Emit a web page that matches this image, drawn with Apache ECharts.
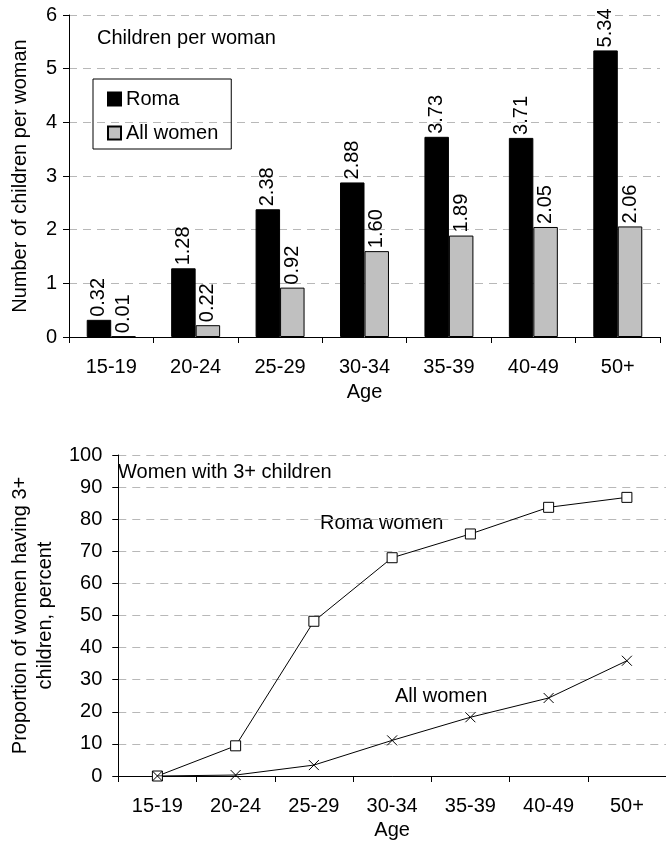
<!DOCTYPE html>
<html><head><meta charset="utf-8">
<script src="https://cdn.jsdelivr.net/npm/echarts@6/dist/echarts.min.js"></script>
<style>html,body{margin:0;padding:0;background:#fff}#c{width:666px;height:841px}</style>
</head><body><div id="c"></div>
<script>
const ages = ['15-19','20-24','25-29','30-34','35-39','40-49','50+'];
const romaChildren = [0.32,1.28,2.38,2.88,3.73,3.71,5.34];
const allChildren = [0.01,0.22,0.92,1.60,1.89,2.05,2.06];
const romaThreePlus = [0,9.4,48.2,68.0,75.4,83.7,86.8];
const allThreePlus = [0,0.3,3.4,11.1,18.3,24.3,35.9];
const topTicks = [0,1,2,3,4,5,6];
const bottomTicks = [0,10,20,30,40,50,60,70,80,90,100];

const F = 'Liberation Sans, Arial, sans-serif';
const FS = 20;
const chart = echarts.init(document.getElementById('c'), null, {renderer:'canvas'});
const splitLine = {show:true, lineStyle:{color:'#b8b8b8', type:[8,6], width:1}};
const axisLine = {show:true, lineStyle:{color:'#000', width:1}};
const xSymbol = 'path://M0,0L10,10M10,0L0,10';
const txt = {fontSize:FS, color:'#000', fontFamily:F};
chart.setOption({
  animation:false,
  textStyle:{fontFamily:F},
  grid:[
    {left:69, top:15, right:6, height:322},
    {left:104.5, top:455, right:-7, height:322.5}
  ],
  legend:{
    show:true, orient:'vertical', left:93, top:79,
    data:['Roma','All women'],
    borderColor:'#000', borderWidth:1, padding:[10,13,6,14],
    itemWidth:13, itemHeight:13, itemGap:14,
    textStyle:txt,
    icon:'rect'
  },
  xAxis:[
    {type:'category', gridIndex:0, data:ages, axisLine:axisLine,
     axisTick:{show:true, length:6, lineStyle:{color:'#000'}},
     axisLabel:Object.assign({margin:20}, txt),
     name:'Age', nameLocation:'middle', nameGap:45, nameTextStyle:txt},
    {type:'category', gridIndex:1, data:ages, axisLine:axisLine,
     axisTick:{show:true, length:6, lineStyle:{color:'#000'}},
     axisLabel:Object.assign({margin:20}, txt),
     name:'Age', nameLocation:'middle', nameGap:44, nameTextStyle:txt}
  ],
  yAxis:[
    {type:'value', gridIndex:0, min:topTicks[0], max:topTicks[topTicks.length-1], interval:1,
     axisLine:axisLine, axisTick:{show:true, length:6, lineStyle:{color:'#000'}},
     splitLine:splitLine,
     axisLabel:Object.assign({margin:12}, txt),
     name:'Number of children per woman', nameLocation:'middle', nameGap:39, nameTextStyle:txt},
    {type:'value', gridIndex:1, min:bottomTicks[0], max:bottomTicks[bottomTicks.length-1], interval:10,
     axisLine:axisLine, axisTick:{show:true, length:6, lineStyle:{color:'#000'}},
     splitLine:splitLine,
     axisLabel:Object.assign({margin:16}, txt),
     name:'Proportion of women having 3+\nchildren, percent', nameLocation:'middle', nameGap:50,
     nameTextStyle:Object.assign({lineHeight:25}, txt)}
  ],
  series:[
    {name:'Roma', type:'bar', xAxisIndex:0, yAxisIndex:0, data:romaChildren,
     barGap:'0%', barCategoryGap:'42%',
     itemStyle:{color:'#000', borderColor:'#000', borderWidth:1},
     label:Object.assign({show:true, position:'top', rotate:90, align:'left', verticalAlign:'middle', distance:3,
            formatter:p=>p.value.toFixed(2)}, txt)},
    {name:'All women', type:'bar', xAxisIndex:0, yAxisIndex:0, data:allChildren,
     itemStyle:{color:'#c0c0c0', borderColor:'#000', borderWidth:1},
     label:Object.assign({show:true, position:'top', rotate:90, align:'left', verticalAlign:'middle', distance:3,
            formatter:p=>p.value.toFixed(2)}, txt)},
    {name:'Roma women', type:'line', xAxisIndex:1, yAxisIndex:1, data:romaThreePlus,
     symbol:'rect', symbolSize:10, showAllSymbol:true,
     lineStyle:{color:'#000', width:1}, itemStyle:{color:'#fff', borderColor:'#000', borderWidth:1}, z:3},
    {name:'All women 3+', type:'line', xAxisIndex:1, yAxisIndex:1, data:allThreePlus,
     symbol:xSymbol, symbolSize:10, showAllSymbol:true,
     lineStyle:{color:'#000', width:1}, itemStyle:{color:'rgba(0,0,0,0)', borderColor:'#000', borderWidth:1}, z:4}
  ],
  graphic:[
    {type:'text', left:97, top:28, style:{text:'Children per woman', font:FS+'px '+F, fill:'#000'}},
    {type:'text', left:118, top:462, style:{text:'Women with 3+ children', font:FS+'px '+F, fill:'#000'}},
    {type:'text', left:320, top:513, style:{text:'Roma women', font:FS+'px '+F, fill:'#000'}},
    {type:'text', left:395, top:686, style:{text:'All women', font:FS+'px '+F, fill:'#000'}}
  ]
});
</script></body></html>
